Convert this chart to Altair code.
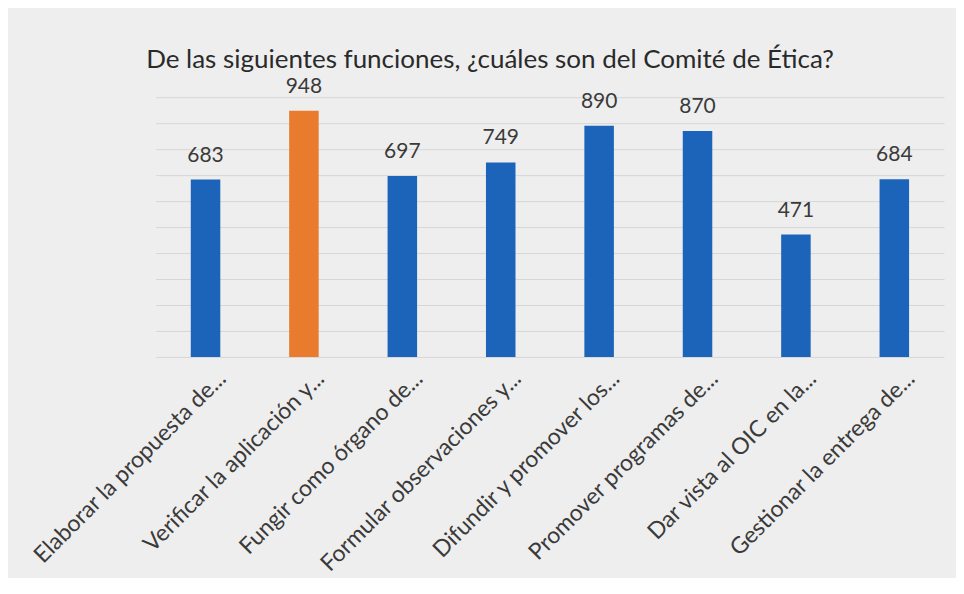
import altair as alt
import pandas as pd

categories = [
    "Elaborar la propuesta de...",
    "Verificar la aplicación y...",
    "Fungir como órgano de...",
    "Formular observaciones y...",
    "Difundir y promover los...",
    "Promover programas de...",
    "Dar vista al OIC en la...",
    "Gestionar la entrega de...",
]
values = [683, 948, 697, 749, 890, 870, 471, 684]
highlight = "Verificar la aplicación y..."

df = pd.DataFrame({"funcion": categories, "valor": values})

FONT = "Lato"
BLUE = "#1c64b9"
ORANGE = "#e97b2e"

x = alt.X("funcion:N", sort=None, title=None,
          scale=alt.Scale(paddingInner=0.7, paddingOuter=0.355),
          axis=alt.Axis(labelAngle=-45, labelFontSize=23, labelFont=FONT,
                        labelColor="#3a3a3a", ticks=False, domain=False,
                        labelOffset=9, labelPadding=10, labelLimit=400))
y = alt.Y("valor:Q", title=None,
          scale=alt.Scale(domain=[0, 1000]),
          axis=alt.Axis(labels=False, ticks=False, domain=False,
                        values=list(range(0, 1001, 100)),
                        gridColor="#d6d6d6", gridWidth=1))

base = alt.Chart(df).encode(x=x, y=y)

bars = base.mark_bar().encode(
    color=alt.condition(alt.datum.funcion == highlight,
                        alt.value(ORANGE), alt.value(BLUE))
)
text = base.mark_text(dy=-24, fontSize=21, font=FONT, color="#3a3a3a").encode(
    text="valor:Q"
)

chart = (bars + text).properties(
    width=789, height=260,
    background="#eeeeee",
    padding={"left": 148, "right": 12, "top": 89, "bottom": 221},
    autosize=alt.AutoSizeParams(type="none"),
    title=alt.TitleParams(
        "De las siguientes funciones, ¿cuáles son del Comité de Ética?",
        font=FONT, fontSize=26, fontWeight="normal", color="#2a2a2a",
        anchor="middle", dx=-60, offset=3),
).configure_view(stroke=None)

chart.save("out.html", embed_options={"renderer": "svg", "actions": False})
